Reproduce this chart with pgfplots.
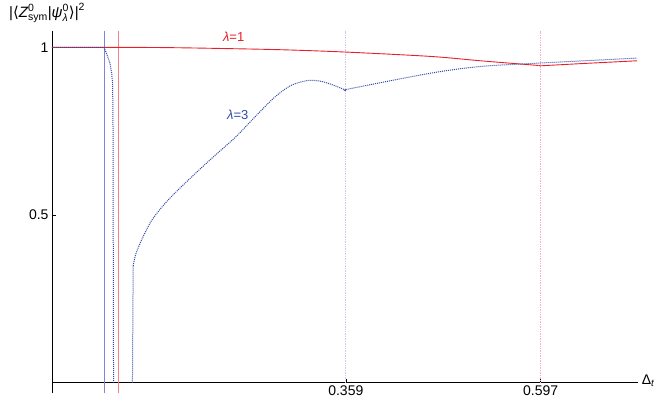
\documentclass[border=0pt]{standalone}
\usepackage{pgfplots}
\pgfplotsset{compat=1.18}
\usepackage{amsmath}
\usepackage{fontspec}
\setmainfont{Liberation Sans}
\newfontfamily\dejavu{DejaVu Sans}
\definecolor{cred}{RGB}{232,30,40}
\definecolor{cblue}{RGB}{50,75,165}
\definecolor{vblue}{RGB}{130,130,215}
\definecolor{vred}{RGB}{242,130,135}
\definecolor{dblue}{RGB}{200,200,238}
\definecolor{dred}{RGB}{245,175,190}
\begin{document}
\begin{tikzpicture}
\begin{axis}[at={(0,0)},anchor=south west,
  scale only axis, width=586pt, height=362pt,
  xmin=0, xmax=0.716, ymin=-0.03, ymax=1.05,
  axis lines*=middle, clip=false,
  axis line style={line width=0.7pt, black},
  xtick={0.359,0.597}, xticklabels={0.359,0.597},
  ytick={0.5,1}, yticklabels={0.5,1},
  tick align=inside, major tick length=4pt,
  tick style={black, line width=0.5pt},
  /pgf/number format/assume math mode=true,
  tick label style={font=\fontsize{14}{16}\selectfont},
]
% vertical guide lines
\addplot[vblue, line width=0.6pt] coordinates {(0.0635,-0.03) (0.0635,1.05)};
\addplot[vred, line width=0.6pt] coordinates {(0.0806,-0.03) (0.0806,1.05)};
\addplot[dblue, densely dotted, line width=0.7pt] coordinates {(0.359,0) (0.359,1.05)};
\addplot[dred, densely dotted, line width=0.7pt] coordinates {(0.597,0) (0.597,1.05)};
% lambda = 1
\addplot[cred, line width=0.9pt, smooth] coordinates {
(0,1) (0.05,1) (0.1,1) (0.15,0.999) (0.2,0.997) (0.2795,0.993) (0.359,0.986)
(0.4626,0.973) (0.5236,0.960) (0.5944,0.946)};
\addplot[cred, line width=0.9pt] coordinates {(0.5944,0.946) (0.597,0.945) (0.65,0.952) (0.7149,0.960)};
% lambda = 3
\addplot[cblue, densely dotted, line width=1pt] coordinates {
(0,1) (0.0635,1) (0.0647,0.993) (0.068,0.973) (0.0708,0.953) (0.0729,0.923)
(0.074,0.894) (0.0745,0.804) (0.0752,0)};
\addplot[cblue, densely dotted, line width=1pt] coordinates {
(0.0983,0) (0.0988,0.2) (0.0992,0.348)};
\addplot[cblue, densely dotted, line width=1pt, smooth] coordinates {
(0.0992,0.348) (0.1025,0.384) (0.1107,0.432) (0.1229,0.488)
(0.1432,0.548) (0.1717,0.616) (0.1961,0.671) (0.2246,0.733) (0.2450,0.785)
(0.2710,0.849) (0.2917,0.886) (0.3121,0.901) (0.3283,0.899)
(0.3442,0.887) (0.359,0.872)};
\addplot[cblue, densely dotted, line width=1pt, smooth] coordinates {
(0.359,0.872) (0.3649,0.877) (0.4626,0.923)
(0.5236,0.943) (0.5944,0.953) (0.7149,0.968)};
\node[text=cred, font=\fontsize{13}{15}\selectfont] at (axis cs:0.222,1.033) {\textit{λ}=1};
\node[text=cblue, font=\fontsize{13}{15}\selectfont] at (axis cs:0.227,0.798) {\textit{λ}=3};
\node[font=\fontsize{15}{17}\selectfont] at (axis cs:-0.0060,1.102)
  {$\text{|}\text{\dejavu ⟨}\text{\itshape Z}^{\text{0}}_{\text{sym}}\text{|}\text{\itshape ψ}^{\text{0}}_{\text{\itshape λ}}\text{\dejavu ⟩}\text{|}^{\text{2}}$};
\node[anchor=west, font=\fontsize{14}{16}\selectfont, inner sep=2pt] at (axis cs:0.718,0.006) {Δ\textsubscript{\itshape t}};
\end{axis}
\path (-52pt,-13pt) rectangle (618pt,392pt);
\end{tikzpicture}
\end{document}
